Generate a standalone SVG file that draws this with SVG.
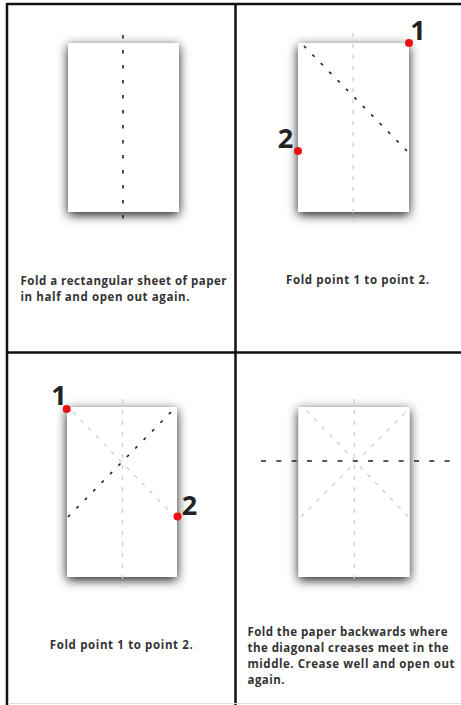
<svg xmlns="http://www.w3.org/2000/svg" width="461" height="705" viewBox="0 0 461 705">
<defs>
<filter id="sh" x="-40%" y="-30%" width="180%" height="160%">
<feDropShadow dx="0" dy="3" stdDeviation="5.5" flood-color="#000" flood-opacity="0.9"/>
</filter>
<style>
.paper{fill:#fff;filter:url(#sh)}
.dk{stroke:#222;stroke-width:1.6;fill:none}
.lt{stroke:#cdcdcd;stroke-width:1.3;fill:none;stroke-dasharray:4 7}
.dot{fill:#ee1111}
.num{font-family:"Open Sans","Liberation Sans",sans-serif;font-weight:bold;font-size:27px;fill:#222;text-anchor:middle}
.cap{font-family:"Open Sans","Liberation Sans",sans-serif;font-weight:bold;font-size:11.5px;fill:#333}
.grid{stroke:#111;stroke-width:2.5;fill:none}
</style>
</defs>
<rect width="461" height="705" fill="#fff"/>
<g id="frame">
<line class="grid" x1="7" y1="4" x2="461" y2="4"/>
<line class="grid" x1="7" y1="3" x2="7" y2="705"/>
<line class="grid" x1="235.5" y1="4" x2="235.5" y2="705"/>
<line class="grid" x1="7" y1="352.5" x2="461" y2="352.5"/>
<line x1="8" y1="703.5" x2="461" y2="703.5" stroke="#ddd" stroke-width="1"/>
</g>
<g id="panel1">
<rect class="paper" x="68" y="43" width="111" height="169"/>
<line class="dk" x1="123" y1="35" x2="123" y2="223" stroke-dasharray="3.5 11.5"/>
<text class="cap" x="20.5" y="284.5" textLength="206">Fold a rectangular sheet of paper</text>
<text class="cap" x="20.5" y="300.5" textLength="169">in half and open out again.</text>
</g>
<g id="panel2">
<rect class="paper" x="298" y="43" width="111" height="169"/>
<line class="lt" x1="353" y1="33" x2="353" y2="222"/>
<line class="dk" x1="304" y1="46" x2="407" y2="151" stroke-dasharray="3 9"/>
<circle class="dot" cx="409" cy="43" r="4"/>
<circle class="dot" cx="298" cy="151" r="4"/>
<text class="num" x="418" y="40">1</text>
<text class="num" x="285.5" y="148">2</text>
<text class="cap" x="357.5" y="284" text-anchor="middle" textLength="143">Fold point 1 to point 2.</text>
</g>
<g id="panel3">
<rect class="paper" x="67" y="407" width="110" height="170"/>
<line class="lt" x1="122.5" y1="399" x2="122.5" y2="588"/>
<line class="lt" x1="73" y1="412" x2="171" y2="513"/>
<line class="dk" x1="68" y1="517" x2="172" y2="411" stroke-dasharray="3 9"/>
<circle class="dot" cx="66.7" cy="409" r="4"/>
<circle class="dot" cx="177.5" cy="516.5" r="4"/>
<text class="num" x="59" y="405">1</text>
<text class="num" x="189.5" y="515">2</text>
<text class="cap" x="121.3" y="649" text-anchor="middle" textLength="143">Fold point 1 to point 2.</text>
</g>
<g id="panel4">
<rect class="paper" x="298.5" y="407" width="111" height="170"/>
<line class="lt" x1="354.3" y1="399" x2="354.3" y2="588"/>
<line class="lt" x1="306.5" y1="410.5" x2="408.5" y2="517"/>
<line class="lt" x1="301" y1="517" x2="408" y2="410"/>
<line class="dk" x1="261" y1="461" x2="452" y2="461" stroke-dasharray="5 10.3"/>
<text class="cap" x="247.5" y="636" textLength="200">Fold the paper backwards where</text>
<text class="cap" x="247.5" y="652" textLength="201">the diagonal creases meet in the</text>
<text class="cap" x="247.5" y="668" textLength="207">middle. Crease well and open out</text>
<text class="cap" x="247.5" y="684" textLength="37">again.</text>
</g>
</svg>
